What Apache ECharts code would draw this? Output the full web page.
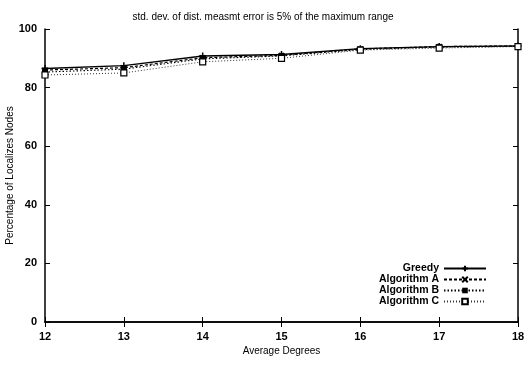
<!DOCTYPE html>
<html>
<head>
<meta charset="utf-8">
<script src="https://cdn.jsdelivr.net/npm/echarts@6/dist/echarts.min.js"></script>
<style>
  html, body { margin: 0; padding: 0; background: #fff; }
  #chart { width: 526px; height: 386px; }
</style>
</head>
<body>
<div id="chart"></div>
<script>
var degrees = [12, 13, 14, 15, 16, 17, 18]
var greedy = [86.5, 87.5, 90.8, 91.3, 93.3, 94.0, 94.2]
var algorithmA = [86.0, 86.8, 90.2, 91.0, 93.2, 94.0, 94.2]
var algorithmB = [85.3, 86.3, 89.8, 90.8, 93.0, 93.8, 94.1]
var algorithmC = [84.3, 85.0, 88.8, 90.0, 92.8, 93.5, 94.0]
var seriesNames = ['Greedy', 'Algorithm A', 'Algorithm B', 'Algorithm C']

var plusPath = 'path://M5,0L5,10M0,5L10,5'
var crossPath = 'path://M0,0L10,10M10,0L0,10'

var font = 'Liberation Sans, Arial, sans-serif'

function pairs (ys) {
  return degrees.map(function (d, i) { return [d, ys[i]] })
}

var chart = echarts.init(document.getElementById('chart'))

var axisCommon = {
  axisLine: { show: true, lineStyle: { color: '#000', width: 1.5 } },
  axisTick: { show: true, inside: true, length: 5, lineStyle: { color: '#000', width: 1 } },
  splitLine: { show: false }
}

var options = {
  animation: false,
  backgroundColor: '#fff',
  title: {
    text: 'std. dev. of dist. measmt error is 5% of the maximum range',
    left: 'center',
    top: 7,
    textStyle: { fontFamily: font, fontSize: 10, fontWeight: 'normal', color: '#000' }
  },
  grid: { left: 45, right: 8, top: 29, bottom: 64, containLabel: false, outerBoundsMode: 'none' },
  legend: {
    orient: 'vertical',
    right: 34,
    top: 258,
    itemGap: 0,
    itemWidth: 42,
    itemHeight: 7,
    align: 'right',
    data: seriesNames,
    textStyle: { fontFamily: font, fontSize: 10.5, fontWeight: 'bold', color: '#000', width: 70, align: 'right', lineHeight: 10.5 }
  },
  xAxis: [
    Object.assign({}, axisCommon, {
      type: 'value', min: 12, max: 18, interval: 1,
      name: 'Average Degrees',
      nameLocation: 'middle',
      nameGap: 24,
      nameMoveOverlap: false,
      nameTextStyle: { fontFamily: font, fontSize: 10, color: '#000' },
      axisLabel: { fontFamily: font, fontSize: 11, fontWeight: 'bold', color: '#000', margin: 9 }
    }),
    Object.assign({}, axisCommon, {
      type: 'value', min: 12, max: 18, interval: 1, position: 'top',
      axisLabel: { show: false }
    })
  ],
  yAxis: [
    Object.assign({}, axisCommon, {
      type: 'value', min: 0, max: 100, interval: 20,
      name: 'Percentage of Localizes Nodes',
      nameLocation: 'middle',
      nameGap: 30,
      nameMoveOverlap: false,
      nameTextStyle: { fontFamily: font, fontSize: 10, color: '#000' },
      axisLabel: { fontFamily: font, fontSize: 11, fontWeight: 'bold', color: '#000', margin: 8 }
    }),
    Object.assign({}, axisCommon, {
      type: 'value', min: 0, max: 100, interval: 20, position: 'right',
      axisLabel: { show: false }
    })
  ],
  series: [{
    name: seriesNames[0],
    type: 'line',
    data: pairs(greedy),
    symbol: plusPath,
    symbolSize: 7,
    lineStyle: { color: '#000', width: 1.4, type: 'solid' },
    itemStyle: { color: '#000', borderColor: '#000', borderWidth: 1.5 }
  }, {
    name: seriesNames[1],
    type: 'line',
    data: pairs(algorithmA),
    symbol: crossPath,
    symbolSize: 5,
    lineStyle: { color: '#000', width: 1.2, type: [3, 2] },
    itemStyle: { color: '#000', borderColor: '#000', borderWidth: 1.3 }
  }, {
    name: seriesNames[2],
    type: 'line',
    data: pairs(algorithmB),
    symbol: 'rect',
    symbolSize: 6,
    lineStyle: { color: '#000', width: 1.1, type: [1.5, 2] },
    itemStyle: { color: '#000', borderColor: '#000', borderWidth: 0 }
  }, {
    name: seriesNames[3],
    type: 'line',
    data: pairs(algorithmC),
    symbol: 'rect',
    symbolSize: 6,
    lineStyle: { color: '#333', width: 1, type: [1, 2] },
    itemStyle: { color: '#fff', borderColor: '#000', borderWidth: 1.2 }
  }]
}

chart.setOption(options)
</script>
</body>
</html>
